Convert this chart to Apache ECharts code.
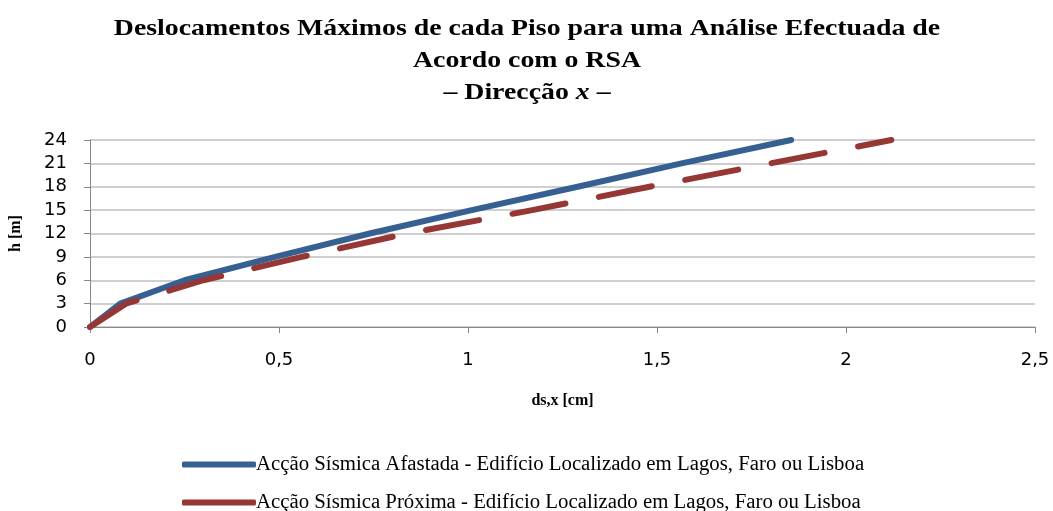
<!DOCTYPE html>
<html>
<head>
<meta charset="utf-8">
<script src="https://cdn.jsdelivr.net/npm/echarts@6/dist/echarts.min.js"></script>
<style>html,body{margin:0;padding:0;background:#fff}#c{width:1053px;height:511px}</style>
</head>
<body>
<div id="c"></div>
<script>
const heights = [0, 3, 6, 9, 12, 15, 18, 21, 24];
const dispAfastada = [0, 0.08, 0.25, 0.49, 0.74, 1.01, 1.29, 1.565, 1.855];
const dispProxima = [0, 0.095, 0.30, 0.56, 0.84, 1.17, 1.48, 1.80, 2.12];
const seriesNames = [
  'Acção Sísmica Afastada - Edifício Localizado em Lagos, Faro ou Lisboa',
  'Acção Sísmica Próxima - Edifício Localizado em Lagos, Faro ou Lisboa'
];
const titleLines = [
  '{b|Deslocamentos Máximos de cada Piso para uma Análise Efectuada de}',
  '{b|Acordo com o RSA}',
  '{b|– Direcção }{i|x}{b| –}'
];

const serif = '"Liberation Serif", "Times New Roman", serif';
const sans = '"DejaVu Sans", "Open Sans", sans-serif';
const titleRich = {
  b: {fontFamily: serif, fontWeight: 'bold', fontSize: 23, fill: '#000', color: '#000'},
  i: {fontFamily: serif, fontWeight: 'bold', fontStyle: 'italic', fontSize: 23, fill: '#000', color: '#000'}
};
const chart = echarts.init(document.getElementById('c'));
chart.setOption({
  animation: false,
  backgroundColor: '#fff',
  graphic: titleLines.map((t, k) => ({
    type: 'text', x: 527, y: 29 + 32 * k, scaleX: 1.21, silent: true,
    style: {text: t, x: 0, y: 0, align: 'center', verticalAlign: 'middle', rich: titleRich,
      font: 'bold 23px ' + serif, fill: '#000'}
  })),
  grid: {left: 90, right: 18, top: 140, bottom: 184, containLabel: false},
  xAxis: {
    type: 'value', min: 0, max: 2.5, interval: 0.5,
    name: 'ds,x [cm]', nameLocation: 'middle', nameGap: 66,
    nameTextStyle: {fontFamily: serif, fontWeight: 'bold', fontSize: 16, color: '#000'},
    axisLine: {show: true, lineStyle: {color: '#868686', width: 1}},
    axisTick: {show: true, length: 6, lineStyle: {color: '#868686'}},
    splitLine: {show: false},
    axisLabel: {fontFamily: sans, fontSize: 18, color: '#000', margin: 24,
      formatter: v => String(v).replace('.', ',')}
  },
  yAxis: {
    type: 'value', min: 0, max: 24, interval: 3,
    name: 'h [m]', nameLocation: 'middle', nameGap: 66, nameRotate: 90,
    nameTextStyle: {fontFamily: serif, fontWeight: 'bold', fontSize: 16, color: '#000'},
    axisLine: {show: true, lineStyle: {color: '#868686', width: 1}},
    axisTick: {show: true, length: 6, lineStyle: {color: '#868686'}},
    splitLine: {show: true, lineStyle: {color: '#BFBFBF', width: 1.5}},
    axisLabel: {fontFamily: sans, fontSize: 18, color: '#000', margin: 23}
  },
  legend: {
    orient: 'vertical', left: 182, top: 454, height: 120, padding: 0, itemGap: 17,
    itemWidth: 74, itemHeight: 6,
    textStyle: {fontFamily: serif, fontSize: 20.8, color: '#000', padding: [0, 0, 0, -5]},
    data: seriesNames.map(n => ({name: n, icon: 'roundRect'}))
  },
  series: [
    {
      name: seriesNames[0], type: 'line', symbol: 'none', smooth: false,
      data: heights.map((h, i) => [dispAfastada[i], h]),
      lineStyle: {color: '#376092', width: 6, cap: 'round', join: 'round'},
      itemStyle: {color: '#376092'}
    },
    {
      name: seriesNames[1], type: 'line', symbol: 'none', smooth: false,
      data: heights.map((h, i) => [dispProxima[i], h]),
      lineStyle: {color: '#953735', width: 6, type: [54, 34], cap: 'round', join: 'round'},
      itemStyle: {color: '#953735'}
    }
  ]
});
</script>
</body>
</html>
